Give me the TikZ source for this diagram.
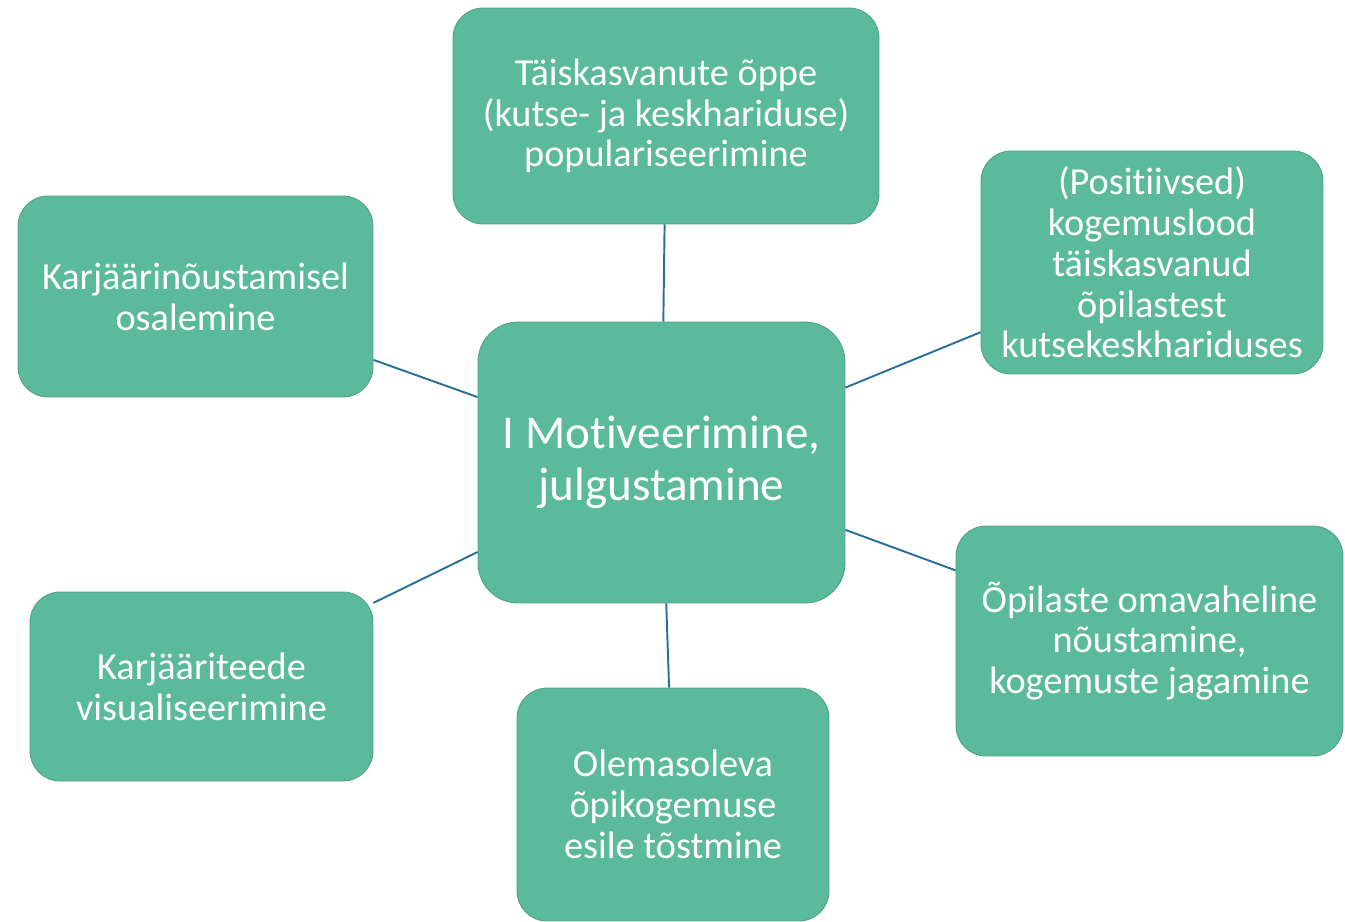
\documentclass[tikz,border=0pt]{standalone}
\usepackage{fontspec}
\setmainfont[Ligatures=NoCommon]{Carlito}
\usetikzlibrary{positioning}
\definecolor{boxgreen}{HTML}{5BBA9B}
\definecolor{boxedge}{HTML}{4FA288}
\definecolor{linkblue}{HTML}{2A6F97}

\begin{document}
\begin{tikzpicture}[x=0.02cm, y=-0.02cm,
    idea/.style={draw=boxedge, line width=0.5pt, fill=boxgreen, rounded corners=0.6cm,
                 text=white, align=center, inner sep=0pt,
                 font=\fontsize{21.8}{23.2}\selectfont},
    link/.style={draw=linkblue, line width=1.1pt}]
    \useasboundingbox (0,0) rectangle (1345,921);
    \node[idea, rounded corners=0.8cm, minimum width=7.34cm, minimum height=5.62cm,
          font=\fontsize{26.8}{29.5}\selectfont] (motiv) at (661.5,462.5) {I Motiveerimine,\\julgustamine};
    \node[idea, minimum width=8.52cm, minimum height=4.32cm] (popul) at (666,116)
          {Täiskasvanute õppe\\(kutse- ja keskhariduse)\\populariseerimine};
    \node[idea, minimum width=7.10cm, minimum height=4.02cm] (noust) at (195.5,296.5)
          {Karjäärinõustamisel\\osalemine};
    \node[idea, minimum width=6.84cm, minimum height=4.46cm] (lood) at (1152,262.5)
          {(Positiivsed)\\kogemuslood\\täiskasvanud\\õpilastest\\kutsekeskhariduses};
    \node[idea, minimum width=6.86cm, minimum height=3.78cm] (visual) at (201.5,686.5)
          {Karjääriteede\\visualiseerimine};
    \node[idea, minimum width=6.24cm, minimum height=4.66cm] (esile) at (673,804.5)
          {Olemasoleva\\õpikogemuse\\esile tõstmine};
    \node[idea, minimum width=7.74cm, minimum height=4.60cm] (jagam) at (1149.5,641)
          {Õpilaste omavaheline\\nõustamine,\\kogemuste jagamine};
    \foreach \b in {popul, noust, lood, visual, esile, jagam}
      \draw[link] (motiv) -- (\b);
\end{tikzpicture}
\end{document}
